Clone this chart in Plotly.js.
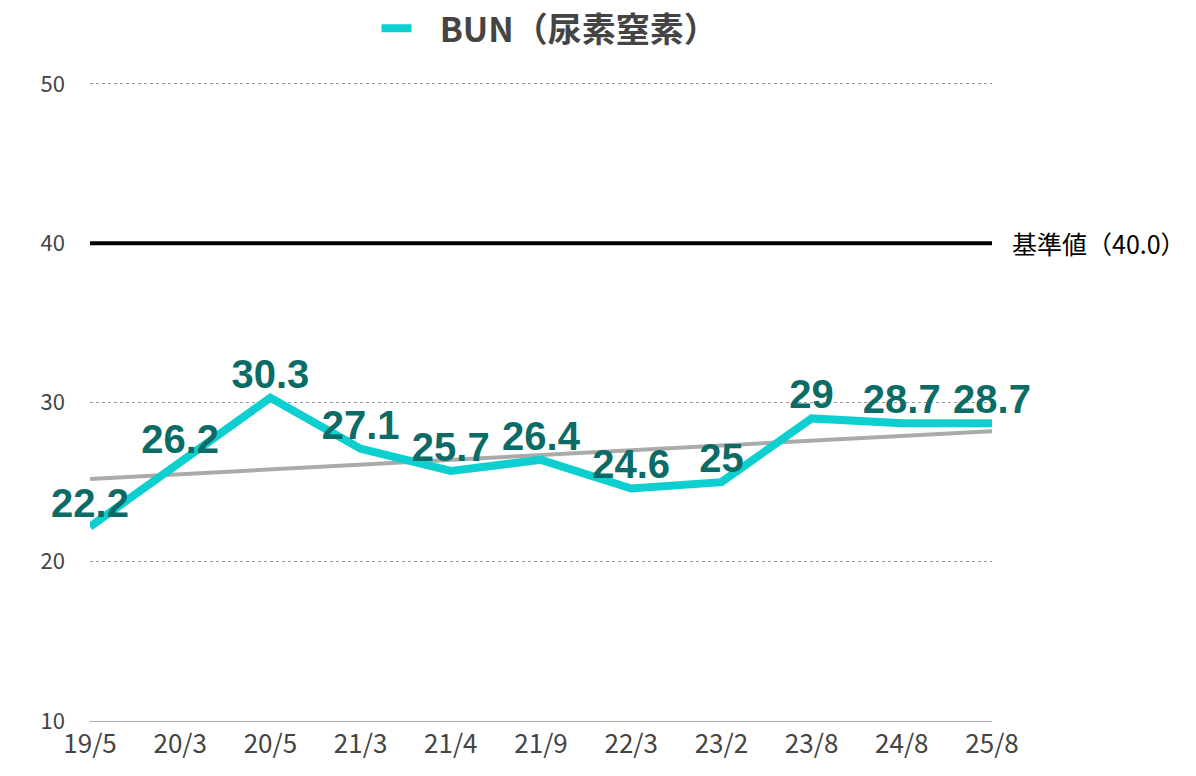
<!DOCTYPE html>
<html>
<head>
<meta charset="utf-8">
<script src="https://cdn.plot.ly/plotly-3.0.1.min.js"></script>
<style>
  html, body { margin: 0; padding: 0; background: #fff; }
  #graph { width: 1196px; height: 776px; }
</style>
</head>
<body>
<div id="graph"></div>
<script>
// BUN readings over time, with trend and reference level.

const categories = ["19/5", "20/3", "20/5", "21/3", "21/4", "21/9", "22/3", "23/2", "23/8", "24/8", "25/8"];
const bunValues = [22.2, 26.2, 30.3, 27.1, 25.7, 26.4, 24.6, 25, 29, 28.7, 28.7];
const trendCategories = ["19/5", "25/8"];
const trendValues = [25.2, 28.2];
const referenceValue = 40;
const referenceLabel = "基準値（40.0）";
const seriesName = "BUN（尿素窒素）";
const yTicks = [10, 20, 30, 40, 50];

const labelFont = "Liberation Sans, Arial, sans-serif";
const jpFont = "Noto Sans CJK JP, sans-serif";

const trend = {
  x: trendCategories,
  y: trendValues,
  type: "scatter",
  mode: "lines",
  line: { color: "#aaaaaa", width: 4 },
  showlegend: false,
  hoverinfo: "skip",
};

const reference = {
  x: [categories[0], categories[categories.length - 1]],
  y: [referenceValue, referenceValue],
  type: "scatter",
  mode: "lines",
  line: { color: "#000000", width: 4 },
  showlegend: false,
  hoverinfo: "skip",
};

const bun = {
  x: categories,
  y: bunValues,
  // a little extra room between the legend swatch and the name
  name: "\u00a0\u00a0\u00a0" + seriesName,
  type: "scatter",
  mode: "lines+text",
  line: { color: "#0dcfcf", width: 8 },
  text: bunValues.map(String),
  textposition: "top center",
  textfont: { family: labelFont, size: 40, color: "#0b6b66", weight: "bold" },
  cliponaxis: false,
};

const layout = {
  width: 1196,
  height: 776,
  paper_bgcolor: "#ffffff",
  plot_bgcolor: "#ffffff",
  margin: { l: 90, r: 204, t: 80, b: 55, autoexpand: false },
  font: { family: jpFont, color: "#444444" },
  showlegend: true,
  legend: {
    orientation: "h",
    x: 0.51,
    xanchor: "center",
    y: 1.08,
    yanchor: "middle",
    font: { family: jpFont, size: 34, color: "#444444", weight: "bold" },
    itemwidth: 30,
  },
  xaxis: {
    type: "category",
    categoryorder: "array",
    categoryarray: categories,
    range: [0, 10],
    showgrid: false,
    zeroline: false,
    showline: true,
    linecolor: "#aaaaaa",
    linewidth: 1,
    ticks: "",
    tickfont: { family: jpFont, size: 26, color: "#444444" },
  },
  yaxis: {
    range: [10, 50.25],
    tickvals: yTicks,
    showgrid: true,
    gridcolor: "#999999",
    griddash: "dot",
    gridwidth: 1,
    zeroline: false,
    showline: false,
    ticks: "",
    ticklabelstandoff: 24,
    tickfont: { family: jpFont, size: 22, color: "#444444" },
  },
  annotations: [
    {
      x: 1,
      xref: "paper",
      xanchor: "left",
      xshift: 18,
      y: referenceValue,
      yref: "y",
      text: referenceLabel,
      showarrow: false,
      font: { family: jpFont, size: 25, color: "#000000" },
    },
  ],
};

const config = { responsive: false, displayModeBar: false };

Plotly.newPlot("graph", [trend, reference, bun], layout, config);
</script>
</body>
</html>
